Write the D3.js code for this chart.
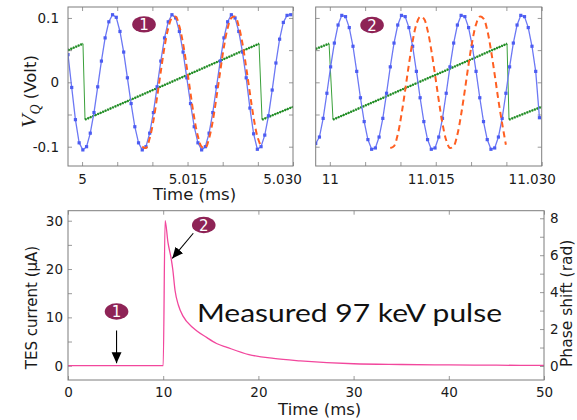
<!DOCTYPE html>
<html>
<head>
<meta charset="utf-8">
<script src="https://cdn.jsdelivr.net/npm/d3@7"></script>
<style>
  body { margin: 0; background: #fff; }
  svg { display: block; font-family: "DejaVu Sans", sans-serif; }
</style>
</head>
<body>
<div id="chart"></div>
<script>
// readout samples, one every sampleStep ms from the panel start
const sampleStep = 0.000528;
const panel1Start = 4.998;
const panel2Start = 10.998;

const blue1 = [
  0.043, -0.008, -0.058, -0.094, -0.105, -0.100, -0.079, -0.047, -0.007, 0.033, 0.069, 0.094, 0.105, 0.101, 0.079, 0.047,
  0.007, -0.033, -0.069, -0.094, -0.105, -0.100, -0.079, -0.047, -0.007, 0.033, 0.069, 0.094, 0.105, 0.100, 0.079, 0.047,
  0.007, -0.033, -0.069, -0.094, -0.105, -0.100, -0.079, -0.047, -0.007, 0.033, 0.069, 0.094, 0.105, 0.100, 0.079, 0.047,
  0.007, -0.040, -0.080, -0.104, -0.100, -0.082, -0.052, -0.012, 0.030, 0.067, 0.093, 0.104, 0.105
];
const blue2 = [
  -0.095, -0.085, -0.056, -0.017, 0.024, 0.061, 0.089, 0.104, 0.102, 0.085, 0.056, 0.017, -0.024, -0.061, -0.089, -0.104,
  -0.102, -0.085, -0.056, -0.017, 0.024, 0.061, 0.089, 0.104, 0.102, 0.085, 0.056, 0.017, -0.024, -0.061, -0.089, -0.104,
  -0.102, -0.085, -0.056, -0.017, 0.024, 0.061, 0.089, 0.104, 0.102, 0.085, 0.056, 0.017, -0.024, -0.061, -0.089, -0.104,
  -0.102, -0.085, -0.056, -0.017, 0.024, 0.061, 0.089, 0.104, 0.102, 0.085, 0.056, 0.017, -0.055
];

// reference (orange dashed) starts at sample 20 in both panels
const orange1Start = 20;
const orange1 = [
  -0.100, -0.102, -0.087, -0.060, -0.023, 0.017, 0.055, 0.084, 0.100, 0.102, 0.087, 0.060, 0.023, -0.017, -0.055, -0.084,
  -0.100, -0.102, -0.087, -0.060, -0.023, 0.017, 0.055, 0.084, 0.100, 0.102, 0.087, 0.060, 0.023, -0.017, -0.055, -0.084,
  -0.100
];
const orange2Start = 20;
const orange2 = [
  -0.102, -0.099, -0.081, -0.050, -0.012, 0.028, 0.064, 0.090, 0.102, 0.099, 0.081, 0.050, 0.012, -0.028, -0.064, -0.090,
  -0.102, -0.099, -0.081, -0.050, -0.012, 0.028, 0.064, 0.090, 0.102, 0.099, 0.081, 0.050, 0.012, -0.028, -0.064, -0.097
];

// flux ramp (green)
const green1T = [4.998, 5.00013, 5.00042, 5.02517, 5.0256, 5.030];
const green1V = [0.050, 0.060, -0.058, 0.060, -0.058, -0.038];
const green2T = [10.998, 10.99989, 11.00045, 11.02509, 11.02537, 11.030];
const green2V = [0.052, 0.060, -0.058, 0.060, -0.058, -0.038];

// measured pulse
const pulseT = [0, 10, 10.2, 10.5, 10.85, 11.0, 11.25, 11.6, 12.1, 13.1, 14.6, 15.6, 16.7, 19, 21.6, 24.4, 30, 35, 40, 45, 50];
const pulseI = [0, 0, 30, 25.5, 22, 20, 15.5, 12.5, 10.2, 7.9, 5.8, 4.6, 3.8, 2.3, 1.5, 1.0, 0.4, 0.25, 0.15, 0.1, 0.05];

// ticks
const top1Ticks = [5, 5.005, 5.010, 5.015, 5.020, 5.025, 5.030];
const top1Labels = ["5", "", "", "5.015", "", "", "5.030"];
const top2Ticks = [11, 11.005, 11.010, 11.015, 11.020, 11.025, 11.030];
const top2Labels = ["11", "", "", "11.015", "", "", "11.030"];
const vTicks = [-0.1, -0.05, 0, 0.05, 0.1];
const vLabels = ["-0.1", "", "0", "", "0.1"];
const timeTicks = [0, 10, 20, 30, 40, 50];
const currentTicks = [0, 5, 10, 15, 20, 25, 30];
const currentLabels = ["0", "", "10", "", "20", "", "30"];
const phaseTicks = [0, 1, 2, 3, 4, 5, 6, 7, 8];
const phaseLabels = ["0", "", "2", "", "4", "", "6", "", "8"];

const colors = {
  blue: "#4c5cf2",
  blueLine: "#6c78f4",
  orange: "#ff5f22",
  green: "#1f8a24",
  pink: "#f2479d",
  badge: "#8e2356",
  frame: "#7d7d7d",
  text: "#1a1a1a"
};

function drawChart() {
  const svg = d3.select("#chart").append("svg")
      .attr("width", 577)
      .attr("height", 420);

  const defs = svg.append("defs");
  defs.append("marker")
      .attr("id", "arrow")
      .attr("viewBox", "0 -5 10 10")
      .attr("refX", 10)
      .attr("markerWidth", 11)
      .attr("markerHeight", 11)
      .attr("markerUnits", "userSpaceOnUse")
      .attr("orient", "auto")
    .append("path")
      .attr("d", "M0,-4.5L10,0L0,4.5Z")
      .attr("fill", "#000");

  drawReadout(svg, {
    id: "p1", left: 68, right: 293, start: panel1Start,
    blue: blue1, orange: orange1, orangeStart: orange1Start,
    greenT: green1T, greenV: green1V,
    ticks: top1Ticks, labels: top1Labels, labelShift: [0, 0, 0, 0, 0, 0, -11],
    badge: "1", badgeAt: [5.00881, 0.090], showY: true
  });
  drawReadout(svg, {
    id: "p2", left: 315.7, right: 541.7, start: panel2Start,
    blue: blue2, orange: orange2, orangeStart: orange2Start,
    greenT: green2T, greenV: green2V,
    ticks: top2Ticks, labels: top2Labels, labelShift: [0, 0, 0, -5, 0, 0, -10],
    badge: "2", badgeAt: [11.00598, 0.089], showY: false
  });
  drawPulse(svg);
}

function badge(svg, cx, cy, label) {
  const g = svg.append("g").attr("transform", `translate(${cx},${cy})`);
  g.append("ellipse")
      .attr("rx", 11.8)
      .attr("ry", 8.2)
      .attr("fill", colors.badge);
  g.append("text")
      .attr("text-anchor", "middle")
      .attr("dy", "0.37em")
      .attr("fill", "#fff")
      .style("font-size", "15px")
      .text(label);
}

function drawReadout(svg, p) {
  const top = 7, bottom = 166;
  const x = d3.scaleLinear().domain([p.start, p.start + 0.032]).range([p.left, p.right]);
  const y = d3.scaleLinear().domain([-0.13, 0.117]).range([bottom, top]);

  svg.append("clipPath").attr("id", "clip-" + p.id)
    .append("rect")
      .attr("x", p.left).attr("y", top)
      .attr("width", p.right - p.left).attr("height", bottom - top);

  // axes, ticks pointing inward
  const bx = svg.append("g")
      .attr("transform", `translate(0,${bottom})`)
      .call(d3.axisBottom(x).tickValues(p.ticks).tickSize(-4).tickPadding(8)
        .tickFormat((d, i) => p.labels[i]));
  bx.selectAll("text").attr("dx", (d, i) => p.labelShift[i]);
  svg.append("g")
      .attr("transform", `translate(0,${top})`)
      .call(d3.axisTop(x).tickValues(p.ticks).tickSize(-4).tickFormat(""));
  svg.append("g")
      .attr("transform", `translate(${p.left},0)`)
      .call(d3.axisLeft(y).tickValues(vTicks).tickSize(-4).tickPadding(9)
        .tickFormat((d, i) => p.showY ? vLabels[i] : ""));
  svg.append("g")
      .attr("transform", `translate(${p.right},0)`)
      .call(d3.axisRight(y).tickValues(vTicks).tickSize(-4).tickFormat(""));

  svg.selectAll(".domain").remove();
  svg.selectAll(".tick line").attr("stroke", "#9a9a9a");
  svg.selectAll(".tick text").attr("fill", colors.text).style("font-size", "13.5px")
      .style("font-family", "'DejaVu Sans', sans-serif");

  const plot = svg.append("g").attr("clip-path", `url(#clip-${p.id})`);

  // green flux ramp: thin drops, dotted ramps
  const green = p.greenT.map((t, i) => ({t: t, v: p.greenV[i]}));
  const gLine = d3.line().x(d => x(d.t)).y(d => y(d.v));
  plot.append("path")
      .attr("d", gLine(green))
      .attr("fill", "none")
      .attr("stroke", "#3aa03a")
      .attr("stroke-width", 1);
  for (let i = 0; i < green.length - 1; i++) {
    if (green[i + 1].v > green[i].v) {
      plot.append("path")
          .attr("d", gLine([green[i], green[i + 1]]))
          .attr("fill", "none")
          .attr("stroke", colors.green)
          .attr("stroke-width", 2.4)
          .attr("stroke-dasharray", "1.6,1.1");
    }
  }

  // blue readout with sample markers
  const blue = p.blue.map((v, i) => ({t: p.start + i * sampleStep, v: v}));
  plot.append("path")
      .attr("d", d3.line().x(d => x(d.t)).y(d => y(d.v))(blue))
      .attr("fill", "none")
      .attr("stroke", colors.blueLine)
      .attr("stroke-width", 1.3);
  plot.selectAll("rect.sample")
    .data(blue)
    .join("rect")
      .attr("class", "sample")
      .attr("x", d => x(d.t) - 1.6)
      .attr("y", d => y(d.v) - 1.6)
      .attr("width", 3.2)
      .attr("height", 3.2)
      .attr("fill", colors.blue);

  // orange dashed reference
  const orange = p.orange.map((v, i) => ({t: p.start + (p.orangeStart + i) * sampleStep, v: v}));
  plot.append("path")
      .attr("d", d3.line().curve(d3.curveCatmullRom).x(d => x(d.t)).y(d => y(d.v))(orange))
      .attr("fill", "none")
      .attr("stroke", colors.orange)
      .attr("stroke-width", 2)
      .attr("stroke-dasharray", "6,4");

  svg.append("rect")
      .attr("x", p.left).attr("y", top)
      .attr("width", p.right - p.left).attr("height", bottom - top)
      .attr("fill", "none")
      .attr("stroke", colors.frame)
      .attr("stroke-width", 1);

  badge(svg, x(p.badgeAt[0]), y(p.badgeAt[1]), p.badge);

  if (p.showY) {
    const lab = svg.append("text")
        .attr("transform", "translate(36,128) rotate(-90)")
        .attr("fill", colors.text);
    lab.append("tspan")
        .style("font-family", "'Liberation Serif', serif")
        .style("font-style", "italic")
        .style("font-size", "22px")
        .text("V");
    lab.append("tspan")
        .attr("dy", 4)
        .style("font-family", "'Liberation Serif', serif")
        .style("font-style", "italic")
        .style("font-size", "14px")
        .text("Q");
    lab.append("tspan")
        .attr("dy", -4)
        .style("font-size", "16.5px")
        .text("\u00a0(Volt)");

    svg.append("text")
        .attr("x", 194.5)
        .attr("y", 200)
        .attr("text-anchor", "middle")
        .attr("fill", colors.text)
        .style("font-size", "16.5px")
        .text("Time (ms)");
  }
}

function drawPulse(svg) {
  const left = 68, right = 544, top = 210.7, bottom = 380;
  const x = d3.scaleLinear().domain([0, 50]).range([left, right]);
  const y = d3.scaleLinear().domain([-2.96, 32.07]).range([bottom, top]);
  const y2 = d3.scaleLinear().domain([-0.758, 8.41]).range([bottom, top]);

  const g = svg.append("g");
  g.append("g")
      .attr("transform", `translate(0,${bottom})`)
      .call(d3.axisBottom(x).tickValues(timeTicks).tickSize(-4).tickPadding(7.5).tickFormat(d3.format("d")));
  g.append("g")
      .attr("transform", `translate(0,${top})`)
      .call(d3.axisTop(x).tickValues(timeTicks).tickSize(-4).tickFormat(""));
  g.append("g")
      .attr("transform", `translate(${left},0)`)
      .call(d3.axisLeft(y).tickValues(currentTicks).tickSize(-4).tickPadding(5)
        .tickFormat((d, i) => currentLabels[i]));
  g.append("g")
      .attr("transform", `translate(${right},0)`)
      .call(d3.axisRight(y2).tickValues(phaseTicks).tickSize(-4).tickPadding(6)
        .tickFormat((d, i) => phaseLabels[i]));

  g.selectAll(".domain").remove();
  g.selectAll(".tick line").attr("stroke", "#9a9a9a");
  g.selectAll(".tick text").attr("fill", colors.text).style("font-size", "13.5px")
      .style("font-family", "'DejaVu Sans', sans-serif");

  const pulse = pulseT.map((t, i) => ({t: t, v: pulseI[i]}));
  g.append("path")
      .attr("d", d3.line().curve(d3.curveMonotoneX).x(d => x(d.t)).y(d => y(d.v))(pulse))
      .attr("fill", "none")
      .attr("stroke", colors.pink)
      .attr("stroke-width", 1.3);

  g.append("rect")
      .attr("x", left).attr("y", top)
      .attr("width", right - left).attr("height", bottom - top)
      .attr("fill", "none")
      .attr("stroke", colors.frame)
      .attr("stroke-width", 1);

  // annotations
  g.append("line")
      .attr("x1", x(5.1)).attr("y1", y(7.3))
      .attr("x2", x(5.1)).attr("y2", y(0.5))
      .attr("stroke", "#000").attr("stroke-width", 1.1)
      .attr("marker-end", "url(#arrow)");
  badge(g, x(5.1), y(11.2), "1");
  g.append("line")
      .attr("x1", x(13.16)).attr("y1", y(27.4))
      .attr("x2", x(10.95)).attr("y2", y(22.2))
      .attr("stroke", "#000").attr("stroke-width", 1.1)
      .attr("marker-end", "url(#arrow)");
  badge(g, x(14.26), y(29.1), "2");

  g.append("text")
      .attr("x", x(13.55))
      .attr("y", y(9.1))
      .attr("fill", "#111")
      .attr("textLength", 305)
      .attr("lengthAdjust", "spacingAndGlyphs")
      .style("font-family", "Lato, 'Open Sans', sans-serif")
      .style("font-size", "25px")
      .text("Measured 97 keV pulse");

  g.append("text")
      .attr("transform", "translate(36.5,307.5) rotate(-90)")
      .attr("text-anchor", "middle")
      .attr("fill", colors.text)
      .style("font-size", "15px")
      .text("TES current (\u03bcA)");
  g.append("text")
      .attr("transform", "translate(572,367) rotate(-90)")
      .attr("fill", colors.text)
      .style("font-size", "15.5px")
      .text("Phase shift (rad)");
  g.append("text")
      .attr("x", 319.7)
      .attr("y", 414.5)
      .attr("text-anchor", "middle")
      .attr("fill", colors.text)
      .style("font-size", "16.5px")
      .text("Time (ms)");
}

drawChart();
</script>
</body>
</html>
